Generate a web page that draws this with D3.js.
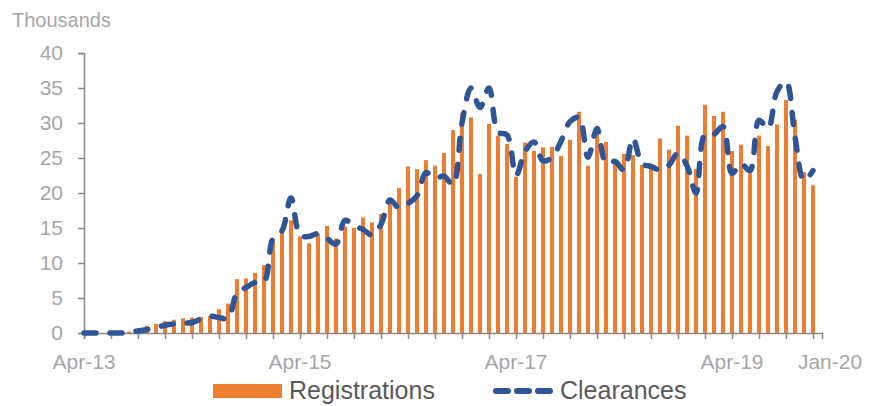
<!DOCTYPE html>
<html>
<head>
<meta charset="utf-8">
<script src="https://cdn.jsdelivr.net/npm/d3@7"></script>
<style>
  body { margin: 0; background: #fff; }
  svg { display: block; font-family: "Liberation Sans", Arial, sans-serif; }
</style>
</head>
<body>
<svg id="chart" width="877" height="406"></svg>
<script>
// monthly categories, Apr-13 .. Jan-20
const months = d3.timeMonth.range(new Date(2013, 3, 1), new Date(2020, 1, 1)).map(d3.timeFormat("%b-%y"));

// values in thousands
const registrations = [
  0, 0, 0, 0, 0.1, 0.2, 0.5, 1.0, 1.3, 1.7,
  1.9, 2.1, 2.2, 2.3, 2.4, 3.4, 4.2, 7.7, 7.8, 8.6,
  9.7, 13.0, 15.0, 16.1, 13.8, 12.8, 14.2, 15.3, 13.5, 15.2,
  15.0, 16.5, 15.8, 17.0, 18.7, 20.7, 23.8, 23.4, 24.7, 23.9,
  25.7, 29.0, 31.4, 30.8, 22.7, 29.9, 28.2, 27.0, 22.3, 27.2,
  26.0, 26.5, 26.6, 25.3, 27.6, 31.6, 23.9, 28.5, 27.3, 24.3,
  25.6, 25.4, 24.0, 23.8, 27.8, 26.2, 29.6, 28.2, 23.4, 32.6,
  31.0, 31.6, 26.0, 26.9, 22.8, 28.2, 26.7, 29.8, 33.3, 30.5,
  23.0, 21.1
];
const clearances = [
  0, 0, 0, 0, 0, 0.1, 0.3, 0.5, 0.8, 1.1,
  1.3, 1.4, 1.5, 2.0, 2.4, 2.2, 2.1, 5.7, 6.5, 7.2,
  7.3, 13.5, 14.6, 19.3, 14.0, 13.8, 14.2, 13.5, 12.7, 16.1,
  15.3, 14.8, 14.0, 15.5, 19.0, 17.9, 18.5, 19.6, 22.9, 22.1,
  22.4, 21.2, 30.0, 35.0, 32.2, 35.0, 28.7, 28.3, 22.5, 25.9,
  27.3, 24.6, 25.1, 27.4, 30.2, 30.8, 25.1, 29.2, 24.3, 24.5,
  23.3, 27.8, 24.2, 23.8, 23.3, 24.0, 25.7, 23.9, 20.0, 28.4,
  28.4, 29.5, 22.8, 24.2, 23.2, 30.4, 29.2, 34.5, 35.9, 28.0,
  21.8, 23.2
];
const yTicks = [0, 5, 10, 15, 20, 25, 30, 35, 40];
const xLabels = ["Apr-13", "Apr-15", "Apr-17", "Apr-19", "Jan-20"];

const svg = d3.select("#chart");
const plotLeft = 84, plotRight = 822, plotTop = 53, plotBottom = 333;
const axisColor = "#898989", labelColor = "#A6A6A6";

const x = d3.scaleLinear().domain([0, months.length]).range([plotLeft, plotRight]);
const y = d3.scaleLinear().domain([0, 40]).range([plotBottom, plotTop]);

// bars
svg.append("g")
  .selectAll("rect")
  .data(registrations)
  .join("rect")
  .attr("x", (d, i) => x(i) - 2)
  .attr("width", 4)
  .attr("y", d => y(d))
  .attr("height", d => y(0) - y(d))
  .attr("fill", "#ED7D31");

// y axis
const yAxis = svg.append("g")
  .attr("transform", `translate(${plotLeft},0)`)
  .call(d3.axisLeft(y).tickValues(yTicks).tickSize(6).tickPadding(15));
yAxis.select(".domain").attr("stroke", axisColor).attr("stroke-width", 1.5);
yAxis.selectAll(".tick line").attr("stroke", axisColor).attr("stroke-width", 1.5);
yAxis.selectAll(".tick text").attr("fill", labelColor).style("font-size", "21px")
  .attr("font-family", "Liberation Sans, Arial, sans-serif");

// x axis: tick every 3 months
const tickIdx = d3.range(0, months.length, 3);
const xAxis = svg.append("g")
  .attr("transform", `translate(0,${plotBottom})`)
  .call(d3.axisBottom(x).tickValues(tickIdx).tickSize(6).tickFormat(""));
xAxis.select(".domain").attr("stroke", axisColor).attr("stroke-width", 1.5);
xAxis.selectAll(".tick line").attr("stroke", axisColor).attr("stroke-width", 1.5);

svg.append("g")
  .selectAll("text")
  .data(xLabels)
  .join("text")
  .attr("x", d => d === "Jan-20" ? x(months.indexOf(d)) + 17 : x(months.indexOf(d)))
  .attr("y", 369)
  .attr("text-anchor", "middle")
  .attr("fill", labelColor)
  .style("font-size", "21px")
  .text(d => d);

// units label
svg.append("text")
  .attr("x", 12)
  .attr("y", 27)
  .attr("fill", labelColor)
  .style("font-size", "20px")
  .text("Thousands");

// clearances line
const line = d3.line()
  .x((d, i) => x(i))
  .y(d => y(d))
  .curve(d3.curveCatmullRom.alpha(0.5));

svg.append("path")
  .datum(clearances)
  .attr("d", line)
  .attr("fill", "none")
  .attr("stroke", "#2F5597")
  .attr("stroke-width", 5.5)
  .attr("stroke-linecap", "round")
  .attr("stroke-dasharray", "12 14");

// legend
const legend = svg.append("g");
legend.append("rect")
  .attr("x", 213).attr("y", 384)
  .attr("width", 69).attr("height", 14)
  .attr("fill", "#ED7D31");
legend.append("text")
  .attr("x", 289).attr("y", 399)
  .attr("fill", "#595959")
  .style("font-size", "25px")
  .text("Registrations");
legend.append("line")
  .attr("x1", 496).attr("x2", 550)
  .attr("y1", 391).attr("y2", 391)
  .attr("stroke", "#2F5597")
  .attr("stroke-width", 6)
  .attr("stroke-linecap", "round")
  .attr("stroke-dasharray", "12 9");
legend.append("text")
  .attr("x", 560).attr("y", 399)
  .attr("fill", "#595959")
  .style("font-size", "25px")
  .text("Clearances");
</script>
</body>
</html>
